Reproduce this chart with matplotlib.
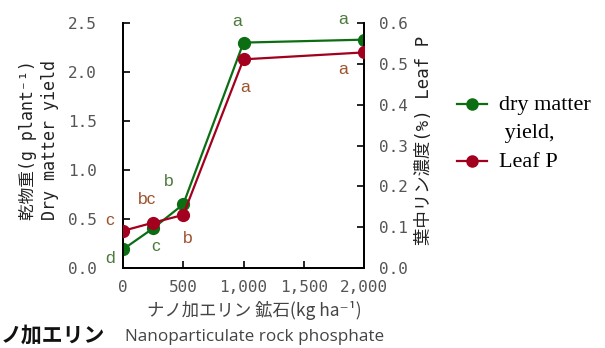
import matplotlib
matplotlib.use('Agg')
import matplotlib.pyplot as plt
from matplotlib.ticker import FuncFormatter

# ---- data ----
rate = [0, 250, 500, 1000, 2000]
dry_matter = [0.19, 0.405, 0.65, 2.30, 2.33]
leaf_p = [0.091, 0.111, 0.130, 0.511, 0.528]
dm_letters = ['d', 'c', 'b', 'a', 'a']
lp_letters = ['c', 'bc', 'b', 'a', 'a']
x_ticks = [0, 500, 1000, 1500, 2000]
left_ticks = [0.0, 0.5, 1.0, 1.5, 2.0, 2.5]
right_ticks = [0.0, 0.1, 0.2, 0.3, 0.4, 0.5, 0.6]
legend_labels = ['dry matter\n yield,', 'Leaf P']
left_label = '乾物重(g plant⁻¹)\nDry matter yield'
right_label = '葉中リン濃度(%) Leaf P'
x_label = 'ナノ加エリン 鉱石(kg ha⁻¹)'
corner_text = 'ノ加エリン'
caption = 'Nanoparticulate rock phosphate'

# ---- styles ----
GREEN = '#0b6e12'
RED = '#a3001f'
GREEN_TXT = '#4b7a3c'
RED_TXT = '#a0522d'
TICK_COL = '#555555'
dm_offsets = [(-13, -9), (2, -18), (-15, 23), (-6, 21), (-21, 20)]
lp_offsets = [(-13, 10), (-6, 23), (4, -24), (2, -28), (-21, -17)]
mono_cjk = ['DejaVu Sans Mono', 'Noto Sans CJK JP']
cjk = ['Noto Sans CJK JP', 'DejaVu Sans']

fig = plt.figure(figsize=(6.05, 3.48), dpi=100)
ax = fig.add_axes([123/605, 1-268/348, (364-123)/605, (268-23)/348])
ax2 = ax.twinx()

ax.plot(rate, dry_matter, color=GREEN, lw=1.6, marker='o', ms=8.5, zorder=3)
ax2.plot(rate, leaf_p, color=RED, lw=1.6, marker='o', ms=8.5, zorder=3)

ax.set_xlim(0, 2000)
ax.set_ylim(0, 2.5)
ax2.set_ylim(0, 0.6)
ax.set_xticks(x_ticks)
ax.set_yticks(left_ticks)
ax2.set_yticks(right_ticks)
ax.xaxis.set_major_formatter(FuncFormatter(lambda v, p: f'{int(v):,}'))
ax.yaxis.set_major_formatter(FuncFormatter(lambda v, p: f'{v:.1f}'))
ax2.yaxis.set_major_formatter(FuncFormatter(lambda v, p: f'{v:.1f}'))

for a in (ax, ax2):
    a.spines['top'].set_visible(False)
    for s in a.spines.values():
        s.set_linewidth(1.3)
    a.patch.set_visible(False)

ax.tick_params(axis='y', direction='in', length=5, width=1.2, pad=19, labelcolor=TICK_COL)
ax.tick_params(axis='x', direction='in', length=5, width=1.2, pad=9, labelcolor=TICK_COL)
ax2.tick_params(axis='y', direction='in', length=5, width=1.2, pad=11, labelcolor=TICK_COL)
for lab in ax.get_xticklabels() + ax.get_yticklabels() + ax2.get_yticklabels():
    lab.set_fontfamily('DejaVu Sans Mono')
    lab.set_fontsize(11.5)

for x, y, t, off in zip(rate, dry_matter, dm_letters, dm_offsets):
    ax.annotate(t, (x, y), xytext=off, textcoords='offset pixels', ha='center', va='center',
                color=GREEN_TXT, fontsize=12.5, family='Liberation Sans', annotation_clip=False)
for x, y, t, off in zip(rate, leaf_p, lp_letters, lp_offsets):
    ax2.annotate(t, (x, y), xytext=off, textcoords='offset pixels', ha='center', va='center',
                 color=RED_TXT, fontsize=12.5, family='Liberation Sans', annotation_clip=False)

fig.text(39/605, 1-140/348, left_label, rotation=90, ha='center', va='center',
         fontsize=12, family=mono_cjk, color='#222222', linespacing=1.35)
fig.text(424/605, 1-140/348, right_label, rotation=90, ha='center', va='center',
         fontsize=12.5, family=mono_cjk, color='#222222')
fig.text(254/605, 1-310/348, x_label, ha='center', va='center',
         fontsize=12.5, family=cjk, color='#444444')

fig.text(1/605, 1-335/348, corner_text, ha='left', va='center', fontsize=15,
         family=cjk, color='#111111', weight='bold')
fig.text(125/605, 1-337/348, caption, ha='left', va='center',
         fontsize=12.3, family='Open Sans', color='#444444')

h1, = ax.plot([], [], color=GREEN, lw=1.6, marker='o', ms=8)
h2, = ax.plot([], [], color=RED, lw=1.6, marker='o', ms=8)
leg = fig.legend([h1, h2], legend_labels, loc='upper left',
                 bbox_to_anchor=(457/605, 1-96/348), frameon=False,
                 prop=dict(family='Liberation Serif', size=16),
                 handlelength=1.35, handletextpad=0.55, labelspacing=0.45,
                 borderpad=0, borderaxespad=0)
for t in leg.get_texts():
    t.set_linespacing(1.65)
for col in leg._legend_handle_box.get_children():
    for item in col.get_children():
        item.align = 'top'

fig.savefig('out.png', dpi=100)
